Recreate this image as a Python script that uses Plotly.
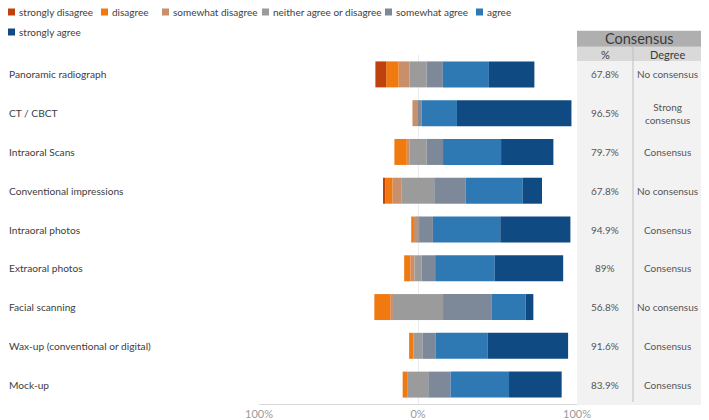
import plotly.graph_objects as go

categories = ["Panoramic radiograph", "CT / CBCT", "Intraoral Scans", "Conventional impressions",
              "Intraoral photos", "Extraoral photos", "Facial scanning",
              "Wax-up (conventional or digital)", "Mock-up"]
strongly_disagree = [6.8, 0, 0, 1.5, 0, 0, 0, 0, 0]
disagree = [7.8, 0, 7.8, 4.4, 1.7, 3.9, 10.0, 2.8, 3.2]
somewhat_disagree = [6.8, 3.5, 1.6, 5.9, 1.7, 2.5, 1.7, 0, 0]
neutral = [10.8, 0, 10.9, 20.4, 1.7, 4.6, 31.5, 5.6, 12.9]
somewhat_agree = [10.2, 2.3, 10.3, 19.7, 8.5, 8.5, 30.4, 8.4, 14.0]
agree = [29.0, 22.2, 36.5, 36.0, 42.4, 37.5, 21.6, 32.7, 36.8]
strongly_agree = [28.6, 72.0, 32.9, 12.1, 44.1, 43.0, 4.8, 50.5, 33.1]

consensus_pct = ["67.8%", "96.5%", "79.7%", "67.8%", "94.9%", "89%", "56.8%", "91.6%", "83.9%"]
consensus_degree = ["No consensus", "Strong<br>consensus", "Consensus", "No consensus", "Consensus",
                    "Consensus", "No consensus", "Consensus", "Consensus"]

legend_labels = ["strongly disagree", "disagree", "somewhat disagree", "neither agree or disagree",
                 "somewhat agree", "agree", "strongly agree"]
colors = ["#BF410E", "#F07A10", "#C98F6B", "#9B9B9B", "#7D8898", "#2E79B4", "#0F4A82"]

x_ticks = [-100, 0, 100]
x_ticktext = ["100%", "0%", "100%"]

FONT = "Lato"
W, H = 709, 420
L, R, T, B = 259, 8, 55, 16
PW, PH = W - L - R, H - T - B


def px(x):
    return (x - L) / PW


def py(y):
    return (H - B - y) / PH


fig = go.Figure()

neg_half = [-v / 2 for v in neutral]
pos_half = [v / 2 for v in neutral]
traces = [
    (neg_half, colors[3]),
    ([-v for v in somewhat_disagree], colors[2]),
    ([-v for v in disagree], colors[1]),
    ([-v for v in strongly_disagree], colors[0]),
    (pos_half, colors[3]),
    (somewhat_agree, colors[4]),
    (agree, colors[5]),
    (strongly_agree, colors[6]),
]
for vals, c in traces:
    fig.add_trace(go.Bar(y=categories, x=vals, orientation="h", marker=dict(color=c, line=dict(width=0)),
                         showlegend=False, width=0.67))

shapes = []
annotations = []

# category labels
for cat in categories:
    annotations.append(dict(x=px(7), y=cat, xref="paper", yref="y", text=cat, showarrow=False,
                            xanchor="left", yanchor="middle",
                            font=dict(family=FONT, size=10.2, color="#404040")))

# legend (manual, two rows)
leg_pos = [(8, 12), (101, 12), (162, 12), (262, 12), (385, 12), (476, 12), (8, 32)]
for (lx, ly), lab, c in zip(leg_pos, legend_labels, colors):
    shapes.append(dict(type="rect", xref="paper", yref="paper", x0=px(lx), x1=px(lx + 7),
                       y0=py(ly + 3.5), y1=py(ly - 3.5), fillcolor=c, line=dict(width=0)))
    annotations.append(dict(x=px(lx + 9), y=py(ly), xref="paper", yref="paper", text=lab,
                            showarrow=False, xanchor="left", yanchor="middle",
                            font=dict(family=FONT, size=10, color="#404040")))

# consensus table
tx0, tx1, tsep = 577, 701, 633
shapes.append(dict(type="rect", xref="paper", yref="paper", x0=px(tx0), x1=px(tx1), y0=py(405), y1=py(61),
                   fillcolor="#F2F2F2", line=dict(width=0), layer="below"))
shapes.append(dict(type="rect", xref="paper", yref="paper", x0=px(tx0), x1=px(tx1), y0=py(61), y1=py(46.7),
                   fillcolor="#D9D9D9", line=dict(width=0)))
shapes.append(dict(type="rect", xref="paper", yref="paper", x0=px(tx0), x1=px(tx1), y0=py(46.7), y1=py(30.7),
                   fillcolor="#AFAFAF", line=dict(width=0)))
shapes.append(dict(type="line", xref="paper", yref="paper", x0=px(tsep), x1=px(tsep), y0=py(402), y1=py(47),
                   line=dict(color="#BFBFBF", width=1)))
annotations.append(dict(x=px((tx0 + tx1) / 2), y=py(38.7), xref="paper", yref="paper", text="Consensus",
                        showarrow=False, xanchor="center", yanchor="middle",
                        font=dict(family=FONT, size=14.5, color="#3A3A3A")))
annotations.append(dict(x=px(605), y=py(54), xref="paper", yref="paper", text="%",
                        showarrow=False, xanchor="center", yanchor="middle",
                        font=dict(family=FONT, size=11, color="#3A3A3A")))
annotations.append(dict(x=px(667), y=py(54), xref="paper", yref="paper", text="Degree",
                        showarrow=False, xanchor="center", yanchor="middle",
                        font=dict(family=FONT, size=11, color="#3A3A3A")))
for cat, p, d in zip(categories, consensus_pct, consensus_degree):
    annotations.append(dict(x=px(605), y=cat, xref="paper", yref="y", text=p, showarrow=False,
                            xanchor="center", yanchor="middle",
                            font=dict(family=FONT, size=10, color="#555555")))
    annotations.append(dict(x=px(667), y=cat, xref="paper", yref="y", text=d, showarrow=False,
                            xanchor="center", yanchor="middle",
                            font=dict(family=FONT, size=10, color="#555555")))

fig.update_layout(
    width=W, height=H,
    margin=dict(l=L, r=R, t=T, b=B, autoexpand=False),
    barmode="relative",
    plot_bgcolor="white", paper_bgcolor="white",
    showlegend=False,
    shapes=shapes, annotations=annotations,
    xaxis=dict(domain=[0, (577 - L) / PW], range=[-100, 100], tickvals=x_ticks, ticktext=x_ticktext,
               showgrid=True, gridcolor="#EBEBEB", gridwidth=1, zeroline=True, zerolinecolor="#EBEBEB",
               zerolinewidth=1, showline=True, linecolor="#D9D9D9", ticks="", fixedrange=True,
               automargin=False, ticklabelstandoff=0,
               tickfont=dict(family=FONT, size=11, color="#9A9A9A")),
    yaxis=dict(categoryorder="array", categoryarray=categories, autorange="reversed",
               showticklabels=False, showgrid=False, zeroline=False, ticks="", automargin=False),
)

fig.write_html("out.html")
